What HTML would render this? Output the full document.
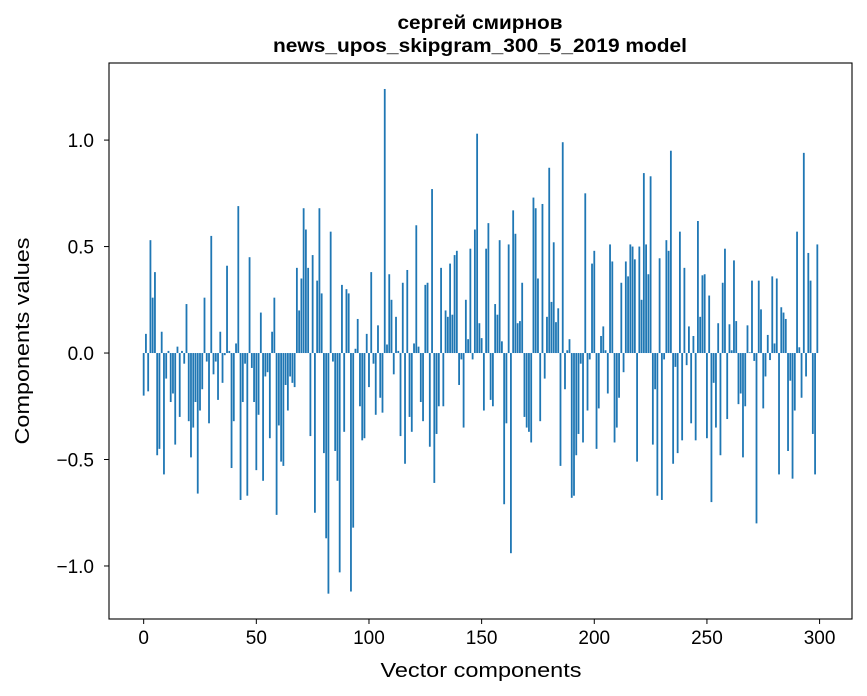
<!DOCTYPE html>
<html><head><meta charset="utf-8"><style>
body{margin:0;background:#fff;}
svg{display:block;font-family:"Liberation Sans","DejaVu Sans",sans-serif;}
</style></head><body>
<svg id="chart" width="867" height="696" viewBox="0 0 867 696" xmlns="http://www.w3.org/2000/svg">
<rect x="0" y="0" width="867" height="696" fill="#fff"/>
<text x="480" y="29" text-anchor="middle" font-size="19" font-weight="bold" textLength="165" lengthAdjust="spacingAndGlyphs">сергей смирнов</text>
<text x="480" y="52" text-anchor="middle" font-size="19" font-weight="bold" textLength="414" lengthAdjust="spacingAndGlyphs">news_upos_skipgram_300_5_2019 model</text>
<g id="bars"></g>
<g id="axes"></g>
<text x="481" y="677" text-anchor="middle" font-size="20" textLength="201" lengthAdjust="spacingAndGlyphs">Vector components</text>
<text transform="translate(29,341) rotate(-90)" text-anchor="middle" font-size="20" textLength="207" lengthAdjust="spacingAndGlyphs">Components values</text>
</svg>
<script>
const values = [
-0.20,0.09,-0.18,0.53,0.26,0.38,-0.48,-0.45,0.10,-0.57,
-0.12,0.01,-0.23,-0.19,-0.43,0.03,-0.30,0.01,-0.05,0.23,
-0.32,-0.49,-0.35,-0.23,-0.66,-0.27,-0.17,0.26,-0.04,-0.33,
0.55,-0.10,-0.04,-0.22,0.10,-0.14,-0.01,0.41,0.01,-0.54,
-0.32,0.045,0.69,-0.69,-0.23,-0.05,-0.67,0.45,-0.07,-0.23,
-0.55,-0.29,0.19,-0.60,-0.11,-0.09,-0.40,0.10,0.26,-0.76,
-0.34,-0.51,-0.53,-0.15,-0.27,-0.11,-0.14,-0.16,0.40,0.20,
0.35,0.68,0.58,0.40,-0.39,0.46,-0.75,0.34,0.68,0.28,
-0.47,-0.87,-1.13,0.57,-0.04,-0.46,-0.60,-1.03,0.32,-0.37,
0.30,0.28,-1.12,-0.82,0.02,0.16,-0.25,-0.41,-0.40,0.09,
-0.16,0.38,-0.05,-0.29,0.13,-0.21,-0.28,1.24,0.04,0.37,
0.25,-0.10,0.17,0.01,-0.39,0.33,-0.52,0.39,-0.30,-0.37,
0.045,0.60,0.03,-0.23,-0.32,0.32,0.33,-0.44,0.77,-0.61,
-0.38,-0.25,0.40,-0.25,0.20,0.17,0.42,0.18,0.46,0.48,
-0.15,-0.03,-0.35,0.25,0.065,0.49,-0.03,0.58,1.03,0.14,
0.07,-0.27,0.49,0.61,-0.22,-0.25,0.23,0.18,0.53,0.055,
-0.71,-0.33,0.51,-0.94,0.67,0.56,0.14,0.15,0.33,-0.30,
-0.35,-0.37,-0.42,0.73,0.68,0.35,-0.32,0.70,-0.12,0.17,
0.87,0.24,0.52,0.145,0.21,-0.53,0.99,-0.17,0.013,0.065,
-0.68,-0.67,-0.48,-0.38,-0.05,-0.42,0.75,-0.27,-0.03,0.42,
0.48,-0.45,-0.26,0.08,0.125,0.013,-0.19,0.51,0.43,-0.42,
-0.35,-0.21,0.33,-0.09,0.43,0.36,0.51,0.50,0.44,-0.51,
0.50,0.25,0.845,0.51,0.37,0.83,-0.43,-0.17,-0.67,0.445,
-0.69,-0.03,0.53,0.48,0.95,-0.52,-0.065,-0.47,0.57,-0.41,
0.40,-0.057,0.125,-0.33,0.08,-0.41,0.62,0.17,0.365,0.37,
-0.40,0.27,-0.70,-0.14,-0.35,0.14,-0.48,0.33,0.49,-0.31,
0.135,0.013,0.435,0.15,-0.24,-0.19,-0.49,-0.25,0.13,0.003,
0.34,-0.037,-0.80,0.34,0.205,-0.26,-0.11,0.085,-0.033,0.36,
0.045,0.35,-0.57,0.215,0.19,0.16,-0.46,-0.13,-0.59,-0.27,
0.57,0.027,-0.21,0.94,-0.11,0.47,0.34,-0.38,-0.57,0.51
];
const xTicks = [0,50,100,150,200,250,300];
const yTicks = [-1.0,-0.5,0.0,0.5,1.0];
const yTickLabels = ["\u22121.0","\u22120.5","0.0","0.5","1.0"];

const L=109,R=852,T=63,B=619;
const xMin=-15.39,xMax=314.39,yMin=-1.249,yMax=1.362;
function xs(v){return L+(v-xMin)/(xMax-xMin)*(R-L);}
function ys(v){return B-(v-yMin)/(yMax-yMin)*(B-T);}
const NS="http://www.w3.org/2000/svg";
const bars=document.getElementById('bars');
values.forEach((v,i)=>{
  const r=document.createElementNS(NS,'rect');
  const x0=xs(i-0.4),x1=xs(i+0.4);
  const y0=ys(Math.max(v,0)),y1=ys(Math.min(v,0));
  r.setAttribute('x',x0);r.setAttribute('width',x1-x0);
  r.setAttribute('y',y0);r.setAttribute('height',Math.max(y1-y0,0.01));
  r.setAttribute('fill','#1f77b4');
  
  
  bars.appendChild(r);
});
const axes=document.getElementById('axes');
const frame=document.createElementNS(NS,'rect');
frame.setAttribute('x',L);frame.setAttribute('y',T);
frame.setAttribute('width',R-L);frame.setAttribute('height',B-T);
frame.setAttribute('fill','none');frame.setAttribute('stroke','#000');frame.setAttribute('stroke-width','1.1');


axes.appendChild(frame);
xTicks.forEach(t=>{
  const x=xs(t);
  const l=document.createElementNS(NS,'line');
  l.setAttribute('x1',x);l.setAttribute('x2',x);l.setAttribute('y1',B);l.setAttribute('y2',B+5);
  l.setAttribute('stroke','#000');
  
  
  axes.appendChild(l);
  const tx=document.createElementNS(NS,'text');
  tx.setAttribute('x',x);tx.setAttribute('y',B+25);tx.setAttribute('text-anchor','middle');tx.setAttribute('font-size','19');
  tx.textContent=t;
  
  
  axes.appendChild(tx);
});
yTicks.forEach((t,i)=>{
  const y=ys(t);
  const l=document.createElementNS(NS,'line');
  l.setAttribute('x1',L-5);l.setAttribute('x2',L);l.setAttribute('y1',y);l.setAttribute('y2',y);
  l.setAttribute('stroke','#000');
  
  
  axes.appendChild(l);
  const tx=document.createElementNS(NS,'text');
  tx.setAttribute('x',L-15);tx.setAttribute('y',y+7);tx.setAttribute('text-anchor','end');tx.setAttribute('font-size','19');
  tx.textContent=yTickLabels[i];
  
  
  axes.appendChild(tx);
});
</script>
</body></html>
